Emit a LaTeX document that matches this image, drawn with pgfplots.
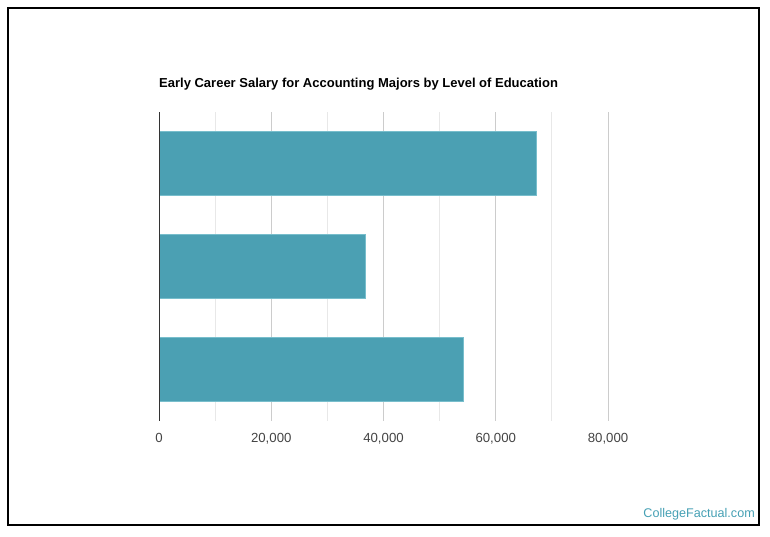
\documentclass[border=0pt]{standalone}
\usepackage{pgfplots}
\pgfplotsset{compat=1.18}
\usepackage{fontspec}
\setmainfont{Liberation Sans}

\definecolor{barfill}{RGB}{75,160,179}
\definecolor{baredge}{RGB}{120,190,204}
\definecolor{majgrid}{RGB}{204,204,204}
\definecolor{mingrid}{RGB}{232,232,232}
\definecolor{ticktext}{RGB}{68,68,68}
\definecolor{brand}{RGB}{70,160,180}

\begin{document}
\begin{tikzpicture}[x=1pt,y=1pt]
  % canvas and frame
  \path[use as bounding box] (0,0) rectangle (770,536);
  \draw[black, line width=1.2pt] (8,11) rectangle (759,528);

  % title
  \node[anchor=west, inner sep=0pt, font=\bfseries\fontsize{13}{15}\selectfont] at (159,452) {Early Career Salary for Accounting Majors by Level of Education};

  \begin{axis}[
    at={(159pt,115pt)}, anchor=south west,
    scale only axis,
    width=449pt, height=309pt,
    xbar, bar width=0.62,
    xmin=0, xmax=80000,
    ymin=-0.5, ymax=2.5,
    y dir=reverse,
    ytick=\empty,
    xtick={0,20000,40000,60000,80000},
    minor xtick={10000,30000,50000,70000},
    scaled x ticks=false,
    xticklabel style={font=\fontsize{13.2}{15}\selectfont, text=ticktext, yshift=-9pt},
    /pgf/number format/.cd, fixed, 1000 sep={,}, assume math mode=true,
    /pgfplots/.cd,
    xmajorgrids, xminorgrids,
    major grid style={majgrid, line width=0.8pt},
    minor grid style={mingrid, line width=0.8pt},
    major tick length=0pt, minor tick length=0pt,
    axis line style={draw=none},
    clip=false,
  ]
    \addplot[fill=barfill, draw=baredge, line width=0.6pt] coordinates {
      (67200,0)
      (36700,1)
      (54200,2)
    };
    % vertical zero line
    \draw[black!80, line width=0.9pt] (axis cs:0,-0.5) -- (axis cs:0,2.5);
  \end{axis}

  % source credit
  \node[anchor=east, inner sep=0pt, text=brand, font=\fontsize{12.6}{14}\selectfont] at (755,22) {CollegeFactual.com};
\end{tikzpicture}
\end{document}
